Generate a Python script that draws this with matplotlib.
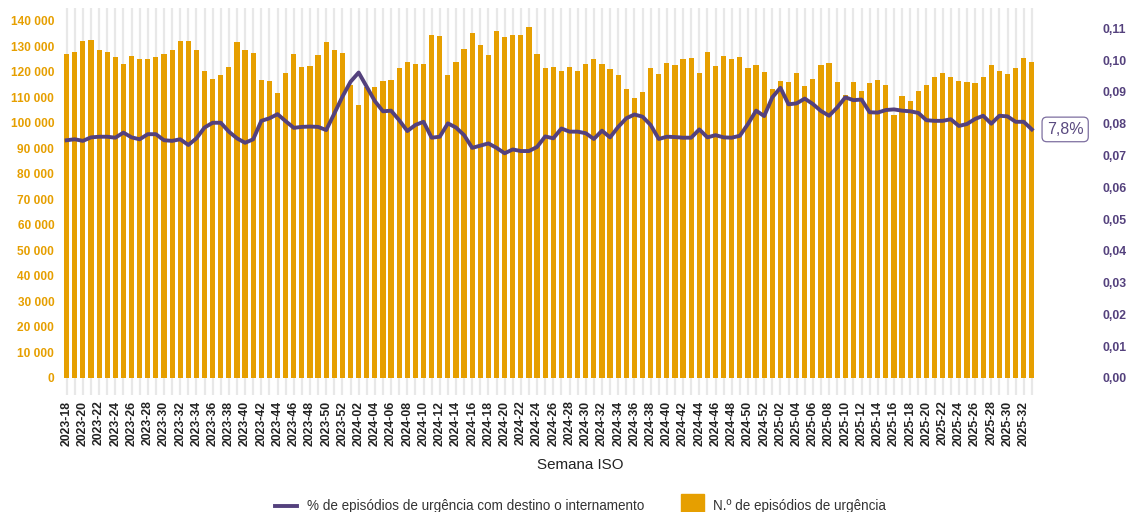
import matplotlib
matplotlib.use('Agg')
import matplotlib.pyplot as plt
import numpy as np
from matplotlib.lines import Line2D
from matplotlib.patches import Rectangle
from matplotlib.ticker import FuncFormatter, MultipleLocator

plt.rcParams['font.family'] = ['Liberation Sans', 'DejaVu Sans']

# ---- data ----
weeks = ([f"2023-{w:02d}" for w in range(18, 53)] +
         [f"2024-{w:02d}" for w in range(1, 53)] +
         [f"2025-{w:02d}" for w in range(1, 34)])

episodes = [
    126900, 127800, 131950, 132600, 128600, 127800, 125700, 123200, 126000, 125100,
    125100, 125700, 126900, 128400, 131950, 131950, 128400, 120200, 117000, 118600,
    121900, 131600, 128400, 127300, 116800, 116200, 111500, 119600, 127100, 122000,
    122400, 126500, 131600, 128400, 127400, 115000, 106900, 114100, 114100, 116300,
    116700, 121400, 124000, 123100, 123100, 134600, 133900, 118600, 124000, 129100,
    135300, 130500, 126600, 135900, 133600, 134400, 134400, 137400, 127100, 121600,
    121900, 120200, 121900, 120200, 123100, 125100, 123100, 121000, 118600, 113400,
    109600, 112100, 121400, 119300, 123300, 122600, 125100, 125400, 119700, 127800,
    122300, 126100, 125100, 125700, 121600, 122600, 119900, 113400, 116500, 116100,
    119700, 114400, 117300, 122700, 123600, 115900, 111100, 115900, 112300, 115500,
    116800, 114700, 102900, 110700, 108700, 112600, 114700, 117800, 119500, 118100,
    116500, 116100, 115500, 117800, 122600, 120200, 119300, 121500, 125300, 123800,
]

pct_internamento = [
    0.0748, 0.0751, 0.0746, 0.0757, 0.0759, 0.0759, 0.0756, 0.0772, 0.0757, 0.0751,
    0.0767, 0.0767, 0.0748, 0.0746, 0.0751, 0.0733, 0.0754, 0.0788, 0.0803, 0.0803,
    0.0775, 0.0754, 0.0740, 0.0751, 0.0809, 0.0817, 0.0830, 0.0808, 0.0787, 0.0790,
    0.0791, 0.0790, 0.0780, 0.0832, 0.0885, 0.0932, 0.0961, 0.0916, 0.0871, 0.0839,
    0.0841, 0.0811, 0.0777, 0.0796, 0.0806, 0.0756, 0.0759, 0.0801, 0.0788, 0.0764,
    0.0724, 0.0731, 0.0738, 0.0724, 0.0707, 0.0719, 0.0714, 0.0714, 0.0727, 0.0760,
    0.0754, 0.0785, 0.0775, 0.0775, 0.0770, 0.0752, 0.0778, 0.0757, 0.0790, 0.0817,
    0.0829, 0.0822, 0.0796, 0.0752, 0.0759, 0.0758, 0.0756, 0.0756, 0.0782, 0.0757,
    0.0764, 0.0757, 0.0756, 0.0762, 0.0799, 0.0841, 0.0824, 0.0883, 0.0913, 0.0861,
    0.0864, 0.0879, 0.0862, 0.0840, 0.0825, 0.0851, 0.0883, 0.0874, 0.0876, 0.0836,
    0.0835, 0.0843, 0.0845, 0.0841, 0.0839, 0.0834, 0.0811, 0.0809, 0.0809, 0.0814,
    0.0793, 0.0799, 0.0815, 0.0825, 0.0800, 0.0825, 0.0823, 0.0806, 0.0806, 0.0782,
]

bar_label = "N.º de episódios de urgência"
line_label = "% de episódios de urgência com destino o internamento"
x_title = "Semana ISO"

ORANGE = '#E69F00'
PURPLE = '#54417D'
GRID = '#E8E8E8'

W, H = 1130, 512
fig = plt.figure(figsize=(W / 100, H / 100), dpi=100)
ax_l, ax_r, ax_t, ax_b = 62.6, 1035.9, 8, 378
ax = fig.add_axes([ax_l / W, 1 - ax_b / H, (ax_r - ax_l) / W, (ax_b - ax_t) / H])

x = np.arange(len(weeks))
ax.set_xlim(-0.5, len(weeks) - 0.5)
ax.set_ylim(0, 145000)

# vertical category grid
for xi in x:
    ax.axvline(xi, color=GRID, lw=1.6, zorder=0)

bars = ax.bar(x, episodes, width=0.64, color=ORANGE, zorder=2, label=bar_label)

ax.set_xticks(x)
ax.set_xticklabels([w if i % 2 == 0 else '' for i, w in enumerate(weeks)],
                   rotation=90, fontsize=8.8, color='#222222', fontweight='bold')
ax.tick_params(axis='x', length=12.2, width=1.6, color=GRID, pad=4)
ax.yaxis.set_major_locator(MultipleLocator(10000))
ax.yaxis.set_major_formatter(FuncFormatter(lambda v, p: f"{int(v):,}".replace(',', ' ')))
ax.tick_params(axis='y', length=0, pad=6, labelsize=8.6, labelcolor=ORANGE)
for t in ax.get_yticklabels():
    t.set_fontweight('bold')
for s in ax.spines.values():
    s.set_visible(False)

ax2 = ax.twinx()
ax2.set_ylim(0, 0.1164)
line, = ax2.plot(x, pct_internamento, color=PURPLE, lw=2.8, zorder=3,
                 solid_joinstyle='round', label=line_label)
ax2.yaxis.set_major_locator(MultipleLocator(0.01))
ax2.yaxis.set_major_formatter(FuncFormatter(lambda v, p: f"{v:.2f}".replace('.', ',')))
ax2.tick_params(axis='y', length=0, pad=48, labelsize=8.8, labelcolor=PURPLE)
for t in ax2.get_yticklabels():
    t.set_fontweight('bold')
for s in ax2.spines.values():
    s.set_visible(False)

last = pct_internamento[-1]
ax2.annotate(f"{last * 100:.1f}%".replace('.', ','), xy=(x[-1], last),
             xytext=(10.8, 0), textcoords='offset points', ha='left', va='center',
             fontsize=11.5, color='#5A4A80', annotation_clip=False,
             bbox=dict(boxstyle='round,pad=0.3,rounding_size=0.3', fc='white',
                       ec='#7D6FA0', lw=0.9))

fig.text(580 / W, 1 - 465 / H, x_title, ha='center', va='center',
         fontsize=10.9, color='#222222')

# legend (manual)
ly = 1 - 506 / H
fig.add_artist(Line2D([275 / W, 297 / W], [ly, ly], color=PURPLE, lw=2.8,
                      transform=fig.transFigure))
fig.text(307 / W, ly, line_label, ha='left', va='center', fontsize=9.75, color='#333333')
fig.add_artist(Rectangle((681 / W, 1 - 518 / H), 23 / W, 24 / H, color=ORANGE,
                         transform=fig.transFigure))
fig.text(713 / W, ly, bar_label, ha='left', va='center', fontsize=9.75, color='#333333')

fig.savefig('out.png', dpi=100)
